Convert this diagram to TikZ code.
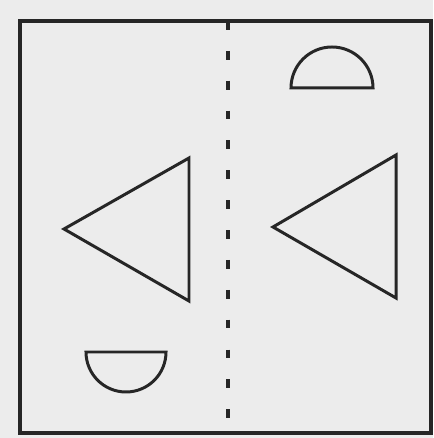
\documentclass[tikz,border=0pt]{standalone}
\usepackage{xcolor}
\usepackage{tikz}

\definecolor{paper}{rgb}{0.925,0.925,0.925}

\begin{document}
\begin{tikzpicture}[
x=0.02cm, y=0.02cm,
outline/.style={draw=black!85, line width=1.7pt, line join=miter},
fold/.style={draw=black!85, line width=2.2pt, dash pattern=on 5pt off 12pt}
]
% background and bounding box
\fill[paper] (0,0) rectangle (433,438);
\useasboundingbox (0,0) rectangle (433,438);

% sheet
\coordinate (sheetSW) at (20,5);
\coordinate (sheetNE) at (431,417);
\draw[outline, line width=2pt] (sheetSW) rectangle (sheetNE);

% fold line
\coordinate (foldTop) at (228,417);
\coordinate (foldBot) at (228,5);
\draw[fold] (foldTop) -- (foldBot);

% triangles
\draw[outline] (64,209) -- (189,280) -- (189,137) -- cycle;
\draw[outline] (273,211) -- (396,283) -- (396,140) -- cycle;

% half discs
\draw[outline] (291,350) arc[start angle=180, end angle=0, radius=41] -- cycle;
\draw[outline] (86,86) arc[start angle=180, end angle=360, radius=40] -- cycle;
\end{tikzpicture}
\end{document}
